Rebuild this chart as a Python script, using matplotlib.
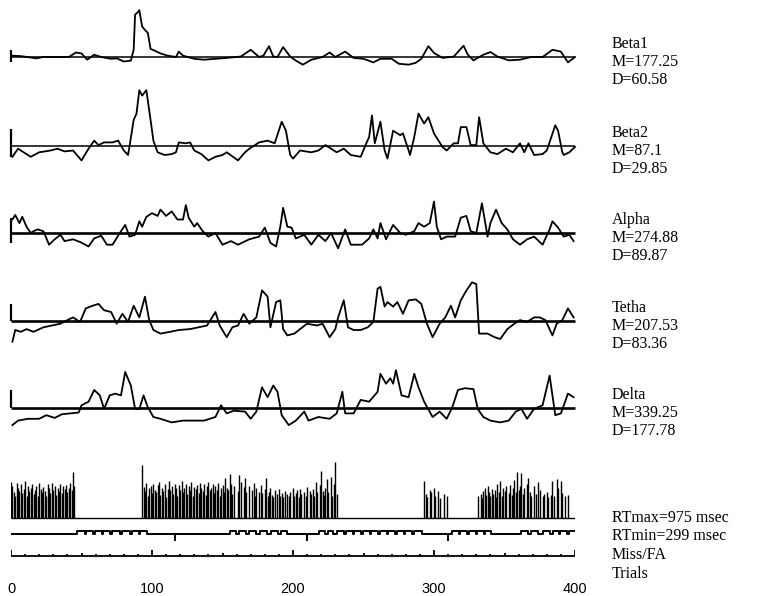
import numpy as np
import matplotlib
matplotlib.use("Agg")
from matplotlib import pyplot as plt

# --- EEG band traces (trial number, amplitude above the mean line) ---
beta1_x = [0, 7, 18, 23, 41, 46, 50, 54, 59, 64, 71, 75, 80, 85, 87, 88, 90, 91, 93, 95,
           97, 99, 102, 106, 111, 117, 119, 122, 130, 137, 153, 163, 170, 176, 179, 183, 186, 189, 193, 198,
           202, 207, 213, 221, 226, 230, 237, 243, 250, 257, 262, 270, 275, 282, 287, 291, 296, 300, 306, 314,
           321, 324, 328, 335, 340, 345, 353, 361, 369, 377, 384, 390, 395, 400]
beta1_y = [1.5, 1, -1.5, 0, 0, 5, 4, -3, 2.5, 0, -2, -1.5, -5, -4, 8, 47, 50, 52, 34, 30,
           27, 9, 7, 4, 1.5, 0, 6, 1.5, -2, -3, -1, 0.5, 8, 0, 1.5, 12, 0.5, 0, 11, 0.5,
           -4, -8.5, -3, 0, 5, 0, 6, -1, -2, -6, -2, -2, -7.5, -8.5, -6.5, -2, 12, 4.5, -1, 0.5,
           12.5, 2.5, -3.7, 2.5, 5.5, 0.5, -3.7, -3, 0, 0, 8, 6, -6, 0]

beta2_x = [1, 5, 14, 20, 28, 33, 38, 44, 50, 55, 59, 62, 66, 72, 76, 80, 83, 84, 87, 89,
           91, 93, 96, 98, 101, 104, 109, 114, 117, 119, 124, 127, 130, 135, 140, 145, 150, 153, 161, 166,
           169, 176, 182, 187, 192, 195, 198, 200, 205, 213, 218, 223, 227, 231, 236, 241, 248, 252, 254, 256,
           258, 262, 265, 267, 271, 276, 278, 282, 283, 286, 289, 293, 296, 300, 306, 309, 314, 317, 319, 323,
           326, 330, 332, 335, 340, 345, 351, 356, 361, 364, 367, 371, 377, 380, 386, 388, 391, 392, 396, 400]
beta2_y = [-12, -3, -12, -7, -5, -3, -6, -5, -16, -3, 6, 1, 4, 4, 6, -5, -10, -1, 29, 36,
           62, 56, 62, 40, 6, -7, -10, -9, -7, 4, 3, 4, -5, -9, -16, -12, -10, -7, -16, -7,
           -3, 4, 6, 3, 27, 17, -10, -14, -5, -7, -5, 1, -3, -7, -3, -10, -12, 3, 10, 34,
           3, 27, -5, -14, 17, 12, 14, -5, -10, 10, 36, 25, 32, 14, -1, -5, 3, 3, 21, 21,
           1, 1, 32, 3, -7, -9, -3, -7, 3, -7, 3, -10, -9, -5, 23, 17, -7, -10, -7, -1]

alpha_x = [1, 3, 6, 8, 11, 14, 16, 19, 23, 27, 31, 35, 38, 44, 49, 55, 59, 64, 68, 72,
           78, 81, 84, 88, 91, 93, 96, 100, 104, 106, 110, 114, 118, 122, 124, 126, 130, 132, 136, 140,
           145, 150, 156, 161, 169, 176, 180, 184, 188, 191, 193, 196, 199, 202, 208, 213, 218, 223, 227, 232,
           237, 241, 249, 254, 257, 260, 262, 266, 271, 276, 280, 286, 289, 293, 297, 300, 302, 305, 309, 315,
           319, 323, 326, 330, 334, 338, 340, 344, 348, 352, 356, 361, 366, 371, 377, 382, 384, 388, 392, 396, 399]
alpha_y = [15, 20, 11, 18, 7, 0, 2, 4, 2, -13, -7, -2, -9, -7, -10, -15, -6, -3, -13, -13,
           2, 9, -4, -2, 13, 7, 18, 22, 19, 26, 19, 24, 15, 15, 31, 17, 7, 11, 2, -4,
           0, -13, -9, -13, -7, -4, 6, -11, -15, 7, 28, 7, 6, -6, -2, -13, -2, -9, 0, -17,
           4, -13, -13, -6, 4, -6, 11, -7, 9, 0, -2, 2, 11, 7, 11, 35, 7, -7, -4, -4,
           17, 19, 2, 0, 33, -4, 11, 26, 11, 4, -7, -13, -7, -4, -13, 4, 13, 6, -4, -2, -9]

tetha_x = [1, 3, 7, 11, 16, 23, 29, 35, 40, 44, 49, 53, 58, 62, 66, 71, 75, 79, 83, 87,
           91, 95, 98, 101, 106, 113, 119, 127, 133, 139, 145, 148, 153, 157, 161, 165, 169, 174, 178, 182,
           184, 188, 191, 193, 196, 201, 205, 210, 217, 221, 226, 230, 232, 236, 239, 243, 248, 253, 257, 260,
           262, 265, 267, 271, 274, 278, 282, 287, 291, 295, 299, 304, 308, 312, 315, 319, 323, 327, 330, 332,
           338, 343, 347, 352, 357, 361, 366, 371, 375, 379, 384, 387, 391, 395, 399]
tetha_y = [-23, -10, -12, -9, -12, -7, -5, -3, 1, 4, -1, 14, 17, 19, 12, 10, -3, 8, -1, 17,
           4, 27, 1, -10, -14, -12, -10, -9, -7, -5, 10, -5, -18, -7, -5, 8, -3, 4, 34, 27,
           -7, 21, 23, -9, -16, -14, -9, -3, -5, -3, -18, -9, 4, 23, -7, -10, -10, -7, -1, 36,
           38, 16, 21, 16, 21, 8, 23, 24, 19, -3, -18, -3, 4, 17, 4, 23, 34, 43, 41, -14,
           -14, -18, -20, -9, -3, 1, -1, 4, 4, 1, -16, -3, 1, 14, 4]

delta_x = [1, 5, 12, 20, 25, 31, 36, 42, 48, 50, 55, 59, 63, 66, 70, 74, 78, 81, 85, 88,
           91, 94, 97, 101, 106, 114, 122, 130, 137, 145, 149, 153, 158, 166, 170, 174, 178, 182, 186, 189,
           192, 197, 202, 208, 211, 218, 226, 231, 235, 237, 243, 248, 254, 260, 262, 266, 269, 271, 273, 277,
           282, 286, 289, 293, 299, 304, 309, 313, 317, 322, 328, 331, 335, 340, 347, 353, 358, 362, 366, 371,
           377, 382, 386, 390, 395, 399]
delta_y = [-19, -14, -12, -12, -8, -11, -7, -6, -5, 3, 7, 20, 14, -1, 14, 16, 14, 40, 25, -1,
           -1, 14, 1, -10, -12, -16, -14, -14, -14, -10, 3, -6, -3, -4, -12, -4, 23, 12, 25, 18,
           -8, -19, -14, -4, -14, -10, -12, -6, 18, -6, -6, 9, 7, 18, 38, 27, 33, 27, 42, 14,
           12, 38, 23, 7, -10, -4, -12, 1, 20, 22, 21, -1, -10, -14, -16, -14, -4, -1, -12, -1,
           3, 36, -8, -6, 16, 12]

# calibration stroke at trial 0 (low, high) for each band
start_marks = [(-6, 8), (-12, 19), (-11, 17), (0, 19), (0, 20)]

band_names = ["Beta1", "Beta2", "Alpha", "Tetha", "Delta"]
band_mean = ["177.25", "87.1", "274.88", "207.53", "339.25"]
band_sd = ["60.58", "29.85", "89.87", "83.36", "177.78"]

# --- reaction times (msec) per trial, 0 = no response ---
rt_block_start = [0, 93, 293, 331]
rt_block1 = [620, 560, 450, 380, 610, 520, 470, 590, 430, 500,
             640, 380, 550, 470, 520, 600, 420, 480, 560, 390,
             610, 500, 450, 540, 470, 380, 590, 520, 440, 610,
             480, 560, 400, 520, 470, 600, 430, 550, 500, 580,
             460, 520, 610, 480, 800, 560]
rt_block2 = [930, 540, 470, 610, 380, 520, 560, 430, 600, 490,
             450, 580, 620, 400, 530, 470, 590, 360, 510, 640,
             480, 560, 420, 600, 520, 380, 570, 490, 640, 450,
             530, 600, 410, 560, 480, 620, 390, 540, 500, 580,
             440, 610, 520, 470, 590, 400, 560, 630, 480, 520,
             600, 430, 550, 490, 610, 380, 530, 570, 460, 700,
             520, 480, 760, 590, 420, 550, 0, 0, 470, 740,
             620, 0, 540, 700, 450, 0, 560, 0, 480, 610,
             390, 520, 0, 460, 580, 430, 0, 510, 700, 380,
             450, 520, 400, 360, 480, 0, 420, 500, 380, 440,
             360, 470, 0, 410, 380, 450, 0, 520, 390, 430,
             480, 360, 510, 420, 0, 460, 390, 540, 0, 470,
             420, 500, 380, 620, 450, 0, 580, 820, 470, 400,
             530, 680, 450, 0, 720, 380, 600, 975, 420, 0]
rt_block3 = [650, 420, 360, 0, 480, 450, 0, 520, 390, 0, 470, 350, 0, 0, 420, 0, 380]
rt_block4 = [380, 0, 420, 350, 470, 520, 400, 560, 450, 380,
             500, 420, 480, 360, 600, 450, 640, 390, 520, 470,
             560, 0, 430, 580, 400, 520, 660, 450, 800, 480,
             560, 780, 420, 520, 0, 600, 700, 450, 380, 0,
             560, 420, 0, 620, 480, 0, 380, 420, 0, 450,
             360, 0, 400, 640, 380, 0, 680, 520, 0, 650,
             430, 0, 380, 0, 400]
rt_max, rt_min = 975, 299

# misses (trial ranges) and false alarms (trials)
miss_ranges = [(47, 52), (54, 58), (60, 64), (66, 70), (72, 77), (79, 84), (86, 90), (92, 96),
               (156, 159), (162, 166), (169, 173), (177, 181), (185, 189), (192, 195),
               (219, 222), (225, 228), (232, 236), (238, 242), (244, 248), (250, 254), (256, 260),
               (262, 266), (268, 272), (274, 278), (280, 284), (286, 291),
               (313, 317), (319, 323), (325, 329), (331, 335), (337, 340),
               (362, 366), (369, 373), (378, 382), (385, 388), (390, 394), (396, 400)]
fa_trials = [116, 210, 310]

n_trials = 400
xticks = [0, 100, 200, 300, 400]

# ---------------- layout (pixels of a 760x596 figure) ----------------
W, H = 760, 596
X0, X1 = 11, 575          # pixel of trial 0 and trial 400
band_base = [57, 146, 233, 321, 408]
PX = 0.9                  # pixels per amplitude unit

fig = plt.figure(figsize=(W / 100, H / 100), dpi=100)
serif = "Liberation Serif"


def strip(base, above, below, px_per_unit=1.0):
    ax = fig.add_axes([X0 / W, 1 - (base + below) / H, (X1 - X0) / W, (above + below) / H])
    ax.set_xlim(0, n_trials)
    ax.set_ylim(-below / px_per_unit, above / px_per_unit)
    ax.axis("off")
    return ax


bands = [(beta1_x, beta1_y), (beta2_x, beta2_y), (alpha_x, alpha_y),
         (tetha_x, tetha_y), (delta_x, delta_y)]
for i, (bx, by) in enumerate(bands):
    base = band_base[i]
    ax = strip(base, 70, 30, PX)
    lw_base = 1.1 if i < 2 else 1.9
    ax.hlines(0, 0, n_trials, color="black", lw=lw_base, clip_on=False)
    ax.plot(bx, by, color="black", lw=1.3, clip_on=False)
    lo, hi = start_marks[i]
    ax.vlines(0, lo, hi, color="black", lw=1.6, clip_on=False)
    for k, txt in enumerate([band_names[i], "M=" + band_mean[i], "D=" + band_sd[i]]):
        fig.text(612 / W, 1 - (base - 13 + 18 * k) / H, txt, family=serif,
                 fontsize=11.5, va="center", ha="left")

# reaction time strip
rt = np.zeros(n_trials + 1)
for s, blk in zip(rt_block_start, [rt_block1, rt_block2, rt_block3, rt_block4]):
    rt[s:s + len(blk)] = blk
trials = np.arange(n_trials + 1)
ax_rt = strip(518, 62, 4, 56 / rt_max)
ax_rt.hlines(0, 0, n_trials, color="black", lw=1.0)
hit = rt > 0
ax_rt.vlines(trials[hit], 0, rt[hit], color="black", lw=1.0)

# miss / false alarm strip
state = np.zeros(n_trials + 1)
for a, b in miss_ranges:
    state[a:b + 1] = 1
ax_m = strip(534, 10, 10, 3.0)
ax_m.plot(trials, state, drawstyle="steps-mid", color="black", lw=1.4)
ax_m.vlines(fa_trials, 0, -2.2, color="black", lw=1.4)

# trials strip
ax_t = strip(556, 10, 4)
ax_t.hlines(0, 0, n_trials, color="black", lw=1.3)
marks = np.arange(0, n_trials + 1, 10)
heights = np.where(marks % 100 == 0, 6, np.where(marks % 50 == 0, 3.5, 2))
ax_t.vlines(marks, 0, heights, color="black", lw=1.3)

for k, txt in enumerate(["RTmax=%d msec" % rt_max, "RTmin=%d msec" % rt_min, "Miss/FA", "Trials"]):
    fig.text(612 / W, 1 - (518 + 18.5 * k) / H, txt, family=serif,
             fontsize=11.5, va="center", ha="left")

# x tick labels
ax_x = fig.add_axes([X0 / W, 1 - 579 / H, (X1 - X0) / W, 0.001])
ax_x.set_xlim(0, n_trials)
ax_x.set_xticks(xticks)
ax_x.set_xticklabels([str(v) for v in xticks], family="Liberation Sans", fontsize=10.5)
ax_x.tick_params(axis="x", length=0, pad=2)
ax_x.set_yticks([])
for sp in ax_x.spines.values():
    sp.set_visible(False)
ax_x.patch.set_alpha(0)

fig.savefig("out.png", dpi=100)
